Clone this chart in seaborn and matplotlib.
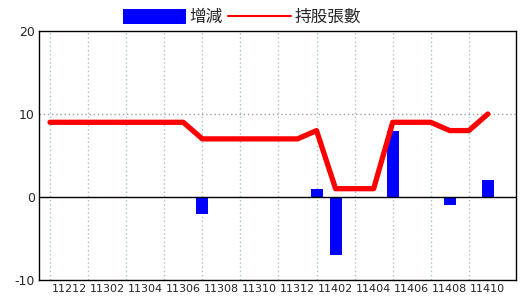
import matplotlib
matplotlib.use("Agg")
import matplotlib.pyplot as plt
import seaborn as sns
import pandas as pd
from matplotlib.patches import Patch
from matplotlib.lines import Line2D

months = ["11211", "11212", "11301", "11302", "11303", "11304", "11305", "11306",
          "11307", "11308", "11309", "11310", "11311", "11312", "11401", "11402",
          "11403", "11404", "11405", "11406", "11407", "11408", "11409", "11410"]
change = [0, 0, 0, 0, 0, 0, 0, 0, -2, 0, 0, 0, 0, 0, 1, -7, 0, 0, 8, 0, 0, -1, 0, 2]
holdings = [9, 9, 9, 9, 9, 9, 9, 9, 7, 7, 7, 7, 7, 7, 8, 1, 1, 1, 9, 9, 9, 8, 8, 10]
y_ticks = [-10, 0, 10, 20]

df = pd.DataFrame({"month": months, "change": change, "holdings": holdings})

sns.set_style("white")
plt.rcParams['font.family'] = ['Noto Sans CJK TC', 'DejaVu Sans']

fig = plt.figure(figsize=(5.2, 3.0), dpi=100)
ax = fig.add_axes([0.075, 0.0667, 0.917, 0.83])

sns.barplot(data=df, x="month", y="change", order=months, color="#0000ff",
            saturation=1, width=0.63, linewidth=0, edgecolor="none", ax=ax, zorder=3)
sns.lineplot(x=list(range(len(months))), y=df["holdings"], color="#ff0000",
             linewidth=3.8, ax=ax, zorder=4, solid_capstyle="round")

ax.set_xlim(-0.58, len(months) + 0.47)
ax.set_ylim(-10, 20)
ax.set_yticks(y_ticks)
ax.set_yticklabels([str(v) for v in y_ticks], fontsize=9, family=['DejaVu Sans'])

major = list(range(1, len(months), 2))
ax.set_xticks(major)
ax.set_xticklabels([months[i] for i in major], fontsize=8, family=['DejaVu Sans'])
ax.set_xticks(list(range(0, len(months), 2)), minor=True)
ax.tick_params(axis='both', which='both', length=0, pad=3)
ax.grid(False)
ax.xaxis.grid(True, which='minor', color='#a8c0d0', linestyle=(0, (1, 2)), linewidth=1)
ax.axhline(10, color='#a0a0a0', linestyle=(0, (1, 2)), linewidth=1, zorder=1)
ax.axhline(0, color='black', linewidth=1, zorder=3.5)
ax.set_xlabel("")
ax.set_ylabel("")
for s in ax.spines.values():
    s.set_visible(True)
    s.set_color('black')
    s.set_linewidth(1)

handles = [Patch(facecolor='#0000ff', edgecolor='none'),
           Line2D([0], [0], color='#ff0000', linewidth=1.5)]
fig.legend(handles, ["增減", "持股張數"], loc='upper center', bbox_to_anchor=(0.465, 1.02),
           ncol=2, frameon=False, fontsize=12, handlelength=3.8, handleheight=1.0,
           handletextpad=0.2, columnspacing=0.3)

fig.savefig("out.png", dpi=100)
